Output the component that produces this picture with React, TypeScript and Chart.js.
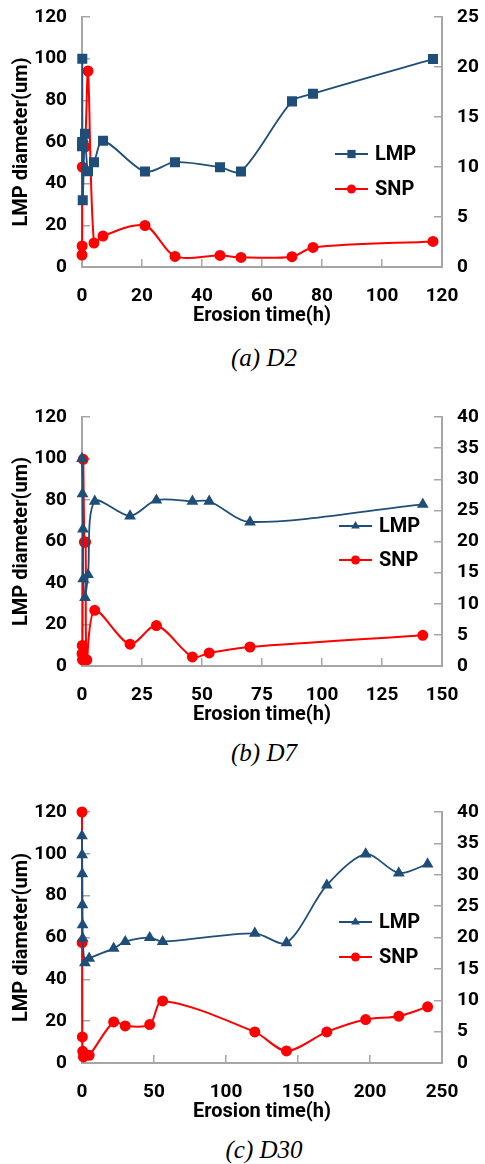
import React, { useEffect, useRef } from "react";
import { Chart, registerables } from "chart.js";

Chart.register(...registerables);

// ---------- (a) D2 ----------
const d2LmpTime = [0, 0.05, 0.1, 0.25, 1, 2, 4, 7, 21, 31, 46, 53, 70, 77, 117];
const d2LmpDiam = [58, 60, 100, 32, 64, 46, 50.3, 60.6, 45.8, 50.3, 47.9, 45.8, 79.5, 83.2, 99.8];
const d2SnpTime = [0, 0.05, 0.1, 0.25, 1, 2, 4, 7, 21, 31, 46, 53, 70, 77, 117];
const d2SnpDiam = [1.2, 2.1, 10, 12.5, 12, 19.6, 2.4, 3.1, 4.15, 1.06, 1.16, 0.96, 1.03, 1.96, 2.56];

// ---------- (b) D7 ----------
const d7LmpTime = [0, 0.2, 0.4, 0.5, 1.25, 2.5, 5.3, 20, 31, 46, 53, 70, 142];
const d7LmpDiam = [100, 83, 66, 42, 33, 44, 79.4, 72.3, 79.9, 79.4, 79.4, 69.4, 77.9];
const d7SnpTime = [0, 0.1, 0.2, 0.5, 1, 1.5, 2, 5.3, 20, 31, 46, 53, 70, 142];
const d7SnpDiam = [2.0, 3.3, 1.0, 33.2, 19.9, 19.9, 1.0, 8.95, 3.5, 6.5, 1.45, 2.1, 3.05, 4.93];

// ---------- (c) D30 ----------
const d30LmpTime = [0, 0.1, 0.2, 0.3, 0.4, 0.5, 2, 5, 22, 30, 47, 56, 120, 142, 170, 197, 220, 240];
const d30LmpDiam = [108.6, 99.5, 90.4, 75.6, 66, 59.6, 47.9, 50, 54.8, 58, 59.9, 58, 62, 57.5, 85, 99.9, 90.8, 95.1];
const d30SnpTime = [0, 0.1, 0.25, 0.5, 1, 5, 22, 30, 47, 56, 120, 142, 170, 197, 220, 240];
const d30SnpDiam = [40, 19.2, 4.15, 1.87, 0.96, 1.23, 6.55, 5.9, 6.13, 9.9, 4.95, 1.92, 4.95, 6.93, 7.46, 8.95];

// ---------- axis / labels ----------
const seriesNames = ["LMP", "SNP"];
const xTitle = "Erosion time(h)";
const yTitle = "LMP diameter(um)";
const leftMax = 120;
const leftStep = 20;
const rightStep = 5;
const captions = ["(a) D2", "(b) D7", "(c) D30"];

const BLUE = "#1F4E79";
const RED = "#FF0000";
const AXIS = "#A6A6A6";
const FONT_FAMILY = "Roboto, 'Open Sans', sans-serif";

type PanelCfg = {
  lmpT: number[];
  lmpV: number[];
  lmpShape: "rect" | "triangle";
  snpT: number[];
  snpV: number[];
  xMax: number;
  xStep: number;
  rMax: number;
  plotTop: number;
  plotBottom: number;
  legendYs: number[];
  legendX: number;
  legendTextX: number;
  caption: string;
  captionY: number;
};

const panels: PanelCfg[] = [
  {
    lmpT: d2LmpTime, lmpV: d2LmpDiam, lmpShape: "rect",
    snpT: d2SnpTime, snpV: d2SnpDiam,
    xMax: 120, xStep: 20, rMax: 25,
    plotTop: 17, plotBottom: 267,
    legendYs: [154, 189], legendX: 335, legendTextX: 375,
    caption: captions[0], captionY: 358,
  },
  {
    lmpT: d7LmpTime, lmpV: d7LmpDiam, lmpShape: "triangle",
    snpT: d7SnpTime, snpV: d7SnpDiam,
    xMax: 150, xStep: 25, rMax: 40,
    plotTop: 417, plotBottom: 666,
    legendYs: [526, 560], legendX: 339, legendTextX: 379,
    caption: captions[1], captionY: 753,
  },
  {
    lmpT: d30LmpTime, lmpV: d30LmpDiam, lmpShape: "triangle",
    snpT: d30SnpTime, snpV: d30SnpDiam,
    xMax: 250, xStep: 50, rMax: 40,
    plotTop: 812, plotBottom: 1063,
    legendYs: [922, 957], legendX: 339, legendTextX: 379,
    caption: captions[2], captionY: 1150,
  },
];

const W = 485;
const TOP_MARGIN = 17;
const BOTTOM_EXTRA = 65;

function drawMarker(ctx: CanvasRenderingContext2D, shape: string, x: number, y: number, r: number, color: string) {
  ctx.save();
  ctx.fillStyle = color;
  ctx.beginPath();
  if (shape === "rect") {
    const s = r * Math.SQRT1_2;
    ctx.rect(x - s, y - s, 2 * s, 2 * s);
  } else if (shape === "triangle") {
    for (let k = 0; k < 3; k++) {
      const a = (k * 2 * Math.PI) / 3;
      const px = x + Math.sin(a) * r;
      const py = y - Math.cos(a) * r;
      if (k === 0) ctx.moveTo(px, py);
      else ctx.lineTo(px, py);
    }
    ctx.closePath();
  } else {
    ctx.arc(x, y, r, 0, Math.PI * 2);
  }
  ctx.fill();
  ctx.restore();
}

const legendPlugin = {
  id: "panelLegend",
  afterDraw(chart: any, _args: any, opts: any) {
    const ctx: CanvasRenderingContext2D = chart.ctx;
    chart.data.datasets.forEach((ds: any, i: number) => {
      const y = opts.ys[i] - opts.canvasTop;
      const x1 = opts.x;
      const x2 = opts.x + 33;
      ctx.save();
      ctx.strokeStyle = ds.borderColor;
      ctx.lineWidth = ds.borderWidth;
      ctx.beginPath();
      ctx.moveTo(x1, y);
      ctx.lineTo(x2, y);
      ctx.stroke();
      drawMarker(ctx, ds.pointStyle, (x1 + x2) / 2, y, ds.pointRadius, ds.pointBackgroundColor);
      ctx.fillStyle = "#000";
      ctx.font = `bold 20px ${FONT_FAMILY}`;
      ctx.textBaseline = "middle";
      ctx.textAlign = "left";
      ctx.fillText(ds.label, opts.textX, y + 1);
      ctx.restore();
    });
  },
};

function Panel({ cfg }: { cfg: PanelCfg }) {
  const ref = useRef<HTMLCanvasElement | null>(null);
  const canvasTop = cfg.plotTop - TOP_MARGIN;
  const H = cfg.plotBottom + BOTTOM_EXTRA - canvasTop;

  useEffect(() => {
    if (!ref.current) return;
    const tickFont = { family: FONT_FAMILY, size: 19, weight: "bold" as const };
    const titleFont = { family: FONT_FAMILY, size: 20, weight: "bold" as const };
    const lmpData = cfg.lmpT.map((t, i) => ({ x: t, y: cfg.lmpV[i] }));
    const snpData = cfg.snpT.map((t, i) => ({ x: t, y: cfg.snpV[i] }));
    const xHeight = H - (cfg.plotBottom - canvasTop);

    const gridCfg = {
      drawOnChartArea: false,
      drawTicks: true,
      tickLength: -8,
      color: AXIS,
      lineWidth: 1.5,
    };
    const borderCfg = { display: true, color: AXIS, width: 2 };

    const chart = new Chart(ref.current, {
      type: "line",
      data: {
        datasets: [
          {
            label: seriesNames[0],
            data: lmpData,
            yAxisID: "y",
            borderColor: BLUE,
            backgroundColor: BLUE,
            pointBackgroundColor: BLUE,
            pointBorderColor: BLUE,
            pointStyle: cfg.lmpShape,
            pointRadius: cfg.lmpShape === "rect" ? 5.8 : 5,
            borderWidth: 1.8,
            tension: 0.3,
            fill: false,
            clip: false as any,
          },
          {
            label: seriesNames[1],
            data: snpData,
            yAxisID: "y1",
            borderColor: RED,
            backgroundColor: RED,
            pointBackgroundColor: RED,
            pointBorderColor: RED,
            pointStyle: "circle",
            pointRadius: 4.5,
            borderWidth: 2,
            tension: 0.3,
            fill: false,
            clip: false as any,
          },
        ],
      },
      options: {
        responsive: false,
        animation: false,
        devicePixelRatio: 1,
        layout: { padding: { top: TOP_MARGIN, left: 0, right: 0, bottom: 0 } },
        plugins: {
          legend: { display: false },
          tooltip: { enabled: false },
          panelLegend: {
            ys: cfg.legendYs,
            x: cfg.legendX,
            textX: cfg.legendTextX,
            canvasTop,
          },
        } as any,
        scales: {
          x: {
            type: "linear",
            position: "bottom",
            min: 0,
            max: cfg.xMax,
            ticks: {
              stepSize: cfg.xStep,
              font: tickFont,
              color: "#000",
              padding: 26,
              maxRotation: 0,
              autoSkip: false,
            },
            grid: gridCfg,
            border: borderCfg,
            title: {
              display: true,
              text: xTitle,
              font: titleFont,
              color: "#000",
              padding: { top: 0, bottom: 4 },
            },
            afterFit: (s: any) => {
              s.height = xHeight;
              s.paddingLeft = 0;
              s.paddingRight = 0;
            },
          },
          y: {
            type: "linear",
            position: "left",
            min: 0,
            max: leftMax,
            ticks: { stepSize: leftStep, font: tickFont, color: "#000", padding: 23 },
            grid: gridCfg,
            border: borderCfg,
            title: {
              display: true,
              text: yTitle,
              font: titleFont,
              color: "#000",
              padding: { top: 10, bottom: 0 },
            },
            afterFit: (s: any) => {
              s.width = 82;
              s.paddingTop = 0;
              s.paddingBottom = 0;
            },
          },
          y1: {
            type: "linear",
            position: "right",
            min: 0,
            max: cfg.rMax,
            ticks: { stepSize: rightStep, font: tickFont, color: "#000", padding: 23 },
            grid: gridCfg,
            border: borderCfg,
            afterFit: (s: any) => {
              s.width = W - 442;
              s.paddingTop = 0;
              s.paddingBottom = 0;
            },
          },
        },
      } as any,
      plugins: [legendPlugin as any],
    });
    return () => chart.destroy();
  }, []);

  return (
    <>
      <canvas
        ref={ref}
        width={W}
        height={H}
        style={{ position: "absolute", left: 0, top: canvasTop, width: W, height: H }}
      />
      <div
        style={{
          position: "absolute",
          left: 264 - 150,
          width: 300,
          top: cfg.captionY - 15,
          height: 30,
          lineHeight: "30px",
          textAlign: "center",
          fontFamily: "'Liberation Serif', 'Times New Roman', serif",
          fontStyle: "italic",
          fontSize: 25,
          color: "#000",
        }}
      >
        {cfg.caption}
      </div>
    </>
  );
}

export default function App() {
  return (
    <div
      style={{
        position: "absolute",
        left: 0,
        top: 0,
        width: W,
        height: 1164,
        background: "#fff",
        overflow: "hidden",
      }}
    >
      {panels.map((p, i) => (
        <Panel key={i} cfg={p} />
      ))}
    </div>
  );
}
